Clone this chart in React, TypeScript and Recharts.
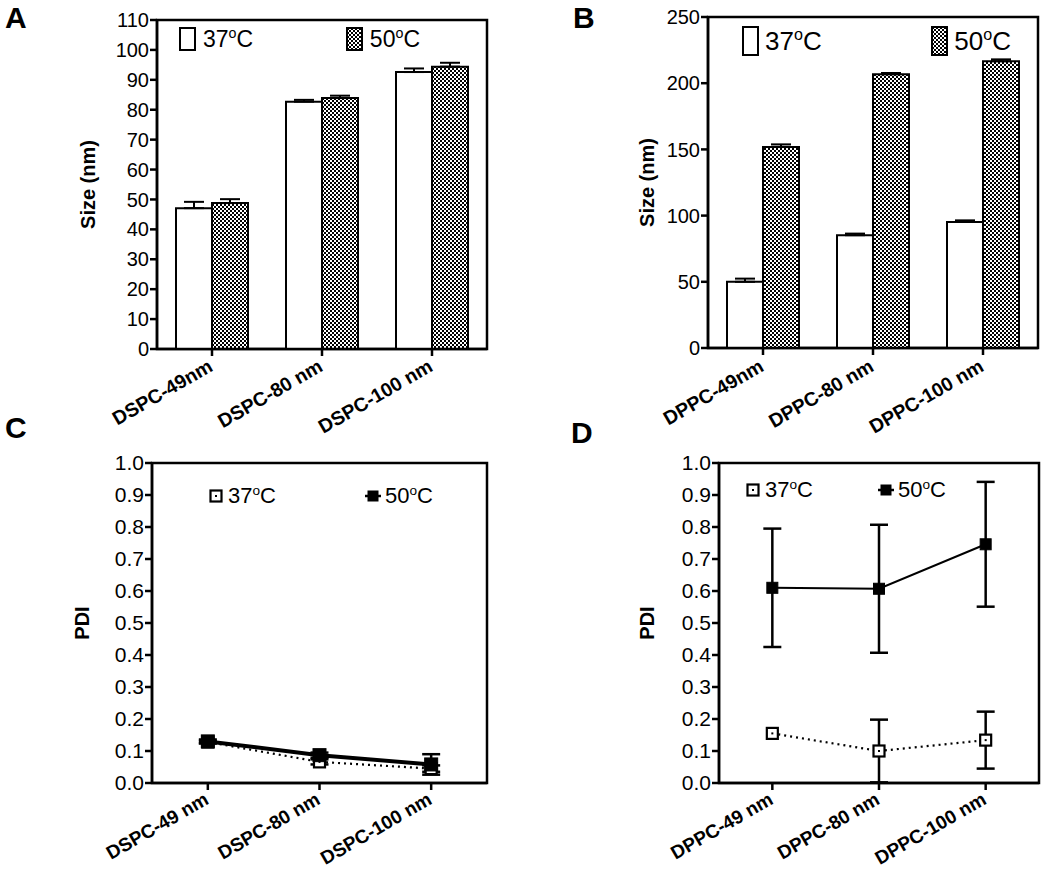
import React from 'react';
import {
  BarChart, Bar, XAxis, YAxis, ErrorBar, ReferenceArea, Legend, LineChart, Line,
} from 'recharts';

const FONT = '"Liberation Sans", Arial, Helvetica, sans-serif';

// Panel A – DSPC size
const dspcSizeCats = ['DSPC-49nm', 'DSPC-80 nm', 'DSPC-100 nm'];
const dspcSize37 = [47.1, 82.7, 92.6];
const dspcSize37Err = [2.1, 0.6, 1.2];
const dspcSize50 = [48.8, 83.9, 94.4];
const dspcSize50Err = [1.3, 0.8, 1.3];

// Panel B – DPPC size
const dppcSizeCats = ['DPPC-49nm', 'DPPC-80 nm', 'DPPC-100 nm'];
const dppcSize37 = [50.0, 85.2, 95.2];
const dppcSize37Err = [2.4, 1.2, 1.2];
const dppcSize50 = [151.9, 206.8, 216.6];
const dppcSize50Err = [1.9, 0.9, 1.4];

// Panel C – DSPC PDI
const dspcPdiCats = ['DSPC-49 nm', 'DSPC-80 nm', 'DSPC-100 nm'];
const dspcPdi37 = [0.128, 0.066, 0.045];
const dspcPdi37Err = [0.004, 0.008, 0.01];
const dspcPdi50 = [0.13, 0.087, 0.058];
const dspcPdi50Err = [0.006, 0.008, 0.032];

// Panel D – DPPC PDI
const dppcPdiCats = ['DPPC-49 nm', 'DPPC-80 nm', 'DPPC-100 nm'];
const dppcPdi37 = [0.155, 0.1, 0.134];
const dppcPdi37Err = [0.0, 0.098, 0.089];
const dppcPdi50 = [0.61, 0.607, 0.746];
const dppcPdi50Err = [0.185, 0.2, 0.195];

const sizeTicksA = [0, 10, 20, 30, 40, 50, 60, 70, 80, 90, 100, 110];
const sizeTicksB = [0, 50, 100, 150, 200, 250];
const pdiTicks = [0, 0.1, 0.2, 0.3, 0.4, 0.5, 0.6, 0.7, 0.8, 0.9, 1.0];

const seriesNames = ['37', '50'];

const buildBars = (cats: string[], a: number[], ae: number[], b: number[], be: number[]) =>
  cats.map((c, i) => ({ cat: c, s37: a[i], e37: [0, ae[i]], s50: b[i], e50: [0, be[i]] }));
const buildLines = (cats: string[], a: number[], ae: number[], b: number[], be: number[]) =>
  cats.map((c, i) => ({ cat: c, s37: a[i], e37: ae[i], s50: b[i], e50: be[i] }));

const dataA = buildBars(dspcSizeCats, dspcSize37, dspcSize37Err, dspcSize50, dspcSize50Err);
const dataB = buildBars(dppcSizeCats, dppcSize37, dppcSize37Err, dppcSize50, dppcSize50Err);
const dataC = buildLines(dspcPdiCats, dspcPdi37, dspcPdi37Err, dspcPdi50, dspcPdi50Err);
const dataD = buildLines(dppcPdiCats, dppcPdi37, dppcPdi37Err, dppcPdi50, dppcPdi50Err);

const AXIS = { stroke: '#000', strokeWidth: 2.5 };

const AngledTick = (props: any) => {
  const { x, y, payload, fontSize, off } = props;
  return (
    <g transform={`translate(${x + 2},${y + off})`}>
      <text x={0} y={0} textAnchor="end" transform="rotate(-30)"
        fontFamily={FONT} fontWeight="bold" fontSize={fontSize} fill="#000">
        {payload.value}
      </text>
    </g>
  );
};

const YTitle = (props: any) => {
  const { viewBox, text, gap } = props;
  if (!viewBox) return null;
  const x = viewBox.x + viewBox.width - gap;
  const y = viewBox.y + viewBox.height / 2;
  return (
    <text x={x} y={y} transform={`rotate(-90, ${x}, ${y})`} textAnchor="middle" dominantBaseline="central"
      fontFamily={FONT} fontWeight="bold" fontSize={20} fill="#000">
      {text}
    </text>
  );
};

const Deg = ({ v }: { v: string }) => (
  <span>
    {v}
    <span style={{ fontSize: '0.62em', position: 'relative', top: '-0.62em' }}>o</span>C
  </span>
);

const BarLegend = (props: any) => {
  const { fontSize, boxW, boxH, pat, gap, legendW } = props;
  return (
    <div style={{ display: 'flex', justifyContent: 'space-between', fontFamily: FONT, fontSize, color: '#000', lineHeight: 1, width: legendW }}>
      {seriesNames.map((n, i) => (
        <div key={n} style={{ display: 'flex', alignItems: 'center' }}>
          <svg width={boxW + 4} height={boxH + 4} style={{ marginRight: gap }}>
            {i === 1 && (
              <defs>
                <pattern id={pat} width={4} height={4} patternUnits="userSpaceOnUse">
                  <rect width={4} height={4} fill="#fff" />
                  <rect width={2} height={2} fill="#000" />
                  <rect x={2} y={2} width={2} height={2} fill="#000" />
                </pattern>
              </defs>
            )}
            <rect x={2} y={2} width={boxW} height={boxH} fill={i === 0 ? '#fff' : `url(#${pat})`} stroke="#000" strokeWidth={2} />
          </svg>
          <Deg v={n} />
        </div>
      ))}
    </div>
  );
};

const OpenSquare = ({ cx, cy, s }: any) => (
  <g>
    <rect x={cx - s / 2} y={cy - s / 2} width={s} height={s} fill="#fff" stroke="#000" strokeWidth={2.2} />
    <rect x={cx - 1} y={cy - 1} width={2} height={2} fill="#000" />
  </g>
);
const FilledSquare = ({ cx, cy, s }: any) => (
  <rect x={cx - s / 2} y={cy - s / 2} width={s} height={s} fill="#000" stroke="#000" strokeWidth={1} />
);

const LineLegend = (props: any) => {
  const { fontSize, widthGap } = props;
  return (
    <div style={{ display: 'flex', justifyContent: 'space-between', fontFamily: FONT, fontSize, color: '#000', lineHeight: 1, width: widthGap }}>
      <div style={{ display: 'flex', alignItems: 'center' }}>
        <svg width={16} height={16} style={{ marginRight: 4 }}>
          <OpenSquare cx={8} cy={8} s={11} />
        </svg>
        <Deg v="37" />
      </div>
      <div style={{ display: 'flex', alignItems: 'center' }}>
        <svg width={16} height={16} style={{ marginRight: 4 }}>
          <line x1={0} y1={8} x2={16} y2={8} stroke="#000" strokeWidth={2.5} />
          <FilledSquare cx={8} cy={8} s={10} />
        </svg>
        <Deg v="50" />
      </div>
    </div>
  );
};

const CheckerDefs = ({ id }: { id: string }) => (
  <defs>
    <pattern id={id} width={4} height={4} patternUnits="userSpaceOnUse">
      <rect width={4} height={4} fill="#fff" />
      <rect width={2} height={2} fill="#000" />
      <rect x={2} y={2} width={2} height={2} fill="#000" />
    </pattern>
  </defs>
);

const PanelLetter = ({ t, left, top }: any) => (
  <div style={{ position: 'absolute', left, top, fontFamily: FONT, fontWeight: 'bold', fontSize: 30, lineHeight: 1, color: '#000' }}>{t}</div>
);

type BarPanelProps = {
  data: any[]; ticks: number[]; max: number; pat: string; left: number; top: number; width: number; height: number;
  margin: any; yWidth: number; xHeight: number; titleGap: number; legend: any; tickFont: number; xFont: number; xOff: number;
};

const BarPanel = (p: BarPanelProps) => (
  <div style={{ position: 'absolute', left: p.left, top: p.top }}>
    <BarChart width={p.width} height={p.height} data={p.data} margin={p.margin} barGap={0} barSize={36}>
      <CheckerDefs id={p.pat} />
      <XAxis dataKey="cat" axisLine={AXIS} tickLine={AXIS} tickSize={7} height={p.xHeight} interval={0}
        tick={<AngledTick fontSize={p.xFont} off={p.xOff} />} />
      <YAxis type="number" domain={[0, p.max]} ticks={p.ticks} interval={0} width={p.yWidth} axisLine={AXIS} tickLine={AXIS}
        tickSize={7} tickMargin={1} tick={{ fontFamily: FONT, fontSize: p.tickFont, fill: '#000' }}
        label={<YTitle text="Size (nm)" gap={p.titleGap} />} />
      <ReferenceArea y1={0} y2={p.max} fill="none" stroke="#000" strokeWidth={2.5} ifOverflow="visible" />
      <Bar dataKey="s37" name="37" fill="#fff" stroke="#000" strokeWidth={2} isAnimationActive={false}>
        <ErrorBar dataKey="e37" width={10} stroke="#000" strokeWidth={2} direction="y" />
      </Bar>
      <Bar dataKey="s50" name="50" fill={`url(#${p.pat})`} stroke="#000" strokeWidth={2} isAnimationActive={false}>
        <ErrorBar dataKey="e50" width={10} stroke="#000" strokeWidth={2} direction="y" />
      </Bar>
      <Legend layout="horizontal" verticalAlign="middle" align="center"
        wrapperStyle={{ ...p.legend.style, width: p.legend.legendW }}
        content={<BarLegend {...p.legend} />} />
    </BarChart>
  </div>
);

type LinePanelProps = {
  data: any[]; left: number; top: number; width: number; height: number; margin: any; yWidth: number; xHeight: number;
  titleGap: number; legendStyle: any; legendWidth: number; w50: number; sq50: number; sq37: number;
};

const LinePanel = (p: LinePanelProps) => (
  <div style={{ position: 'absolute', left: p.left, top: p.top }}>
    <LineChart width={p.width} height={p.height} data={p.data} margin={p.margin}>
      <XAxis dataKey="cat" scale="band" axisLine={AXIS} tickLine={AXIS} tickSize={7} height={p.xHeight} interval={0}
        tick={<AngledTick fontSize={19} off={11} />} />
      <YAxis type="number" domain={[0, 1]} ticks={pdiTicks} interval={0} width={p.yWidth} axisLine={AXIS} tickLine={AXIS}
        tickSize={7} tickMargin={1} tickFormatter={(v: number) => v.toFixed(1)}
        tick={{ fontFamily: FONT, fontSize: 21, fill: '#000' }}
        label={<YTitle text="PDI" gap={p.titleGap} />} />
      <ReferenceArea y1={0} y2={1} fill="none" stroke="#000" strokeWidth={2.5} ifOverflow="visible" />
      <Line dataKey="s37" name="37" stroke="#000" strokeWidth={2.2} strokeDasharray="2 4" isAnimationActive={false}
        dot={(d: any) => <OpenSquare key={`o${d.index}`} cx={d.cx} cy={d.cy} s={p.sq37} />}>
        <ErrorBar dataKey="e37" width={9} stroke="#000" strokeWidth={2.5} direction="y" />
      </Line>
      <Line dataKey="s50" name="50" stroke="#000" strokeWidth={p.w50} isAnimationActive={false}
        dot={(d: any) => <FilledSquare key={`f${d.index}`} cx={d.cx} cy={d.cy} s={p.sq50} />}>
        <ErrorBar dataKey="e50" width={9} stroke="#000" strokeWidth={2.5} direction="y" />
      </Line>
      <Legend layout="horizontal" verticalAlign="middle" align="center"
        wrapperStyle={{ ...p.legendStyle, width: p.legendWidth }}
        content={<LineLegend fontSize={22} widthGap={p.legendWidth} />} />
    </LineChart>
  </div>
);

export default function App() {
  return (
    <div style={{ position: 'absolute', left: 0, top: 0, width: 1050, height: 869, background: '#fff', overflow: 'hidden' }}>
      <BarPanel data={dataA} ticks={sizeTicksA} max={110} pat="chkA" left={0} top={0} width={520} height={440}
        margin={{ top: 20, right: 33, bottom: 10, left: 87 }} yWidth={70} xHeight={81} titleGap={69}
        tickFont={20} xFont={19.5} xOff={12}
        legend={{ fontSize: 23, boxW: 15, boxH: 22, pat: 'chkAL', gap: 6, legendW: 242, style: { left: 178, top: 26 } }} />
      <BarPanel data={dataB} ticks={sizeTicksB} max={250} pat="chkB" left={520} top={0} width={530} height={440}
        margin={{ top: 17, right: 12, bottom: 10, left: 118 }} yWidth={70} xHeight={82} titleGap={61}
        tickFont={20} xFont={19.5} xOff={13}
        legend={{ fontSize: 26, boxW: 15, boxH: 28, pat: 'chkBL', gap: 5, legendW: 270, style: { left: 221, top: 25 } }} />
      <LinePanel data={dataC} left={0} top={430} width={520} height={439}
        margin={{ top: 33, right: 33, bottom: 0, left: 82 }} yWidth={70} xHeight={86} titleGap={70}
        legendStyle={{ left: 208, top: 55 }} legendWidth={225} w50={4} sq50={13} sq37={11} />
      <LinePanel data={dataD} left={520} top={430} width={530} height={439}
        margin={{ top: 33, right: 11, bottom: 0, left: 129 }} yWidth={70} xHeight={86} titleGap={72}
        legendStyle={{ left: 225, top: 49 }} legendWidth={201} w50={2} sq50={11} sq37={11} />
      <PanelLetter t="A" left={5} top={3} />
      <PanelLetter t="B" left={573} top={3} />
      <PanelLetter t="C" left={5} top={413} />
      <PanelLetter t="D" left={571} top={418} />
    </div>
  );
}
